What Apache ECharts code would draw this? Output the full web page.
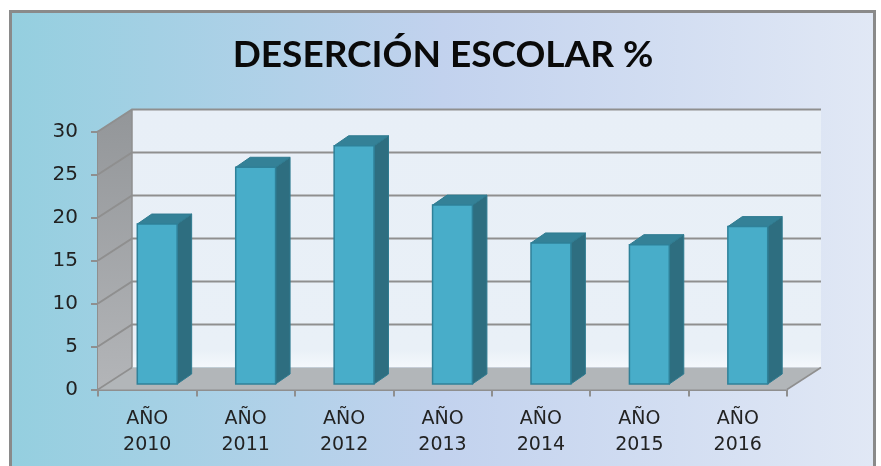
<!DOCTYPE html>
<html><head><meta charset="utf-8">
<style>html,body{margin:0;padding:0;background:#fff}#c{width:881px;height:466px}</style>
<script src="https://cdn.jsdelivr.net/npm/echarts@6/dist/echarts.min.js"></script>
</head><body><div id="c"></div>
<script>
var titleText = 'DESERCIÓN ESCOLAR %';
var categories = ['AÑO\n2010','AÑO\n2011','AÑO\n2012','AÑO\n2013','AÑO\n2014','AÑO\n2015','AÑO\n2016'];
var values = [18.6,25.2,27.7,20.8,16.4,16.2,18.3];
var yTicks = [0,5,10,15,20,25,30];

var DX = 34, DY = -22;           // depth of the 3D box
var BX = 10, BY = -5.5;          // bar inset on the floor
var BDX = 14.5, BDY = -10;       // depth of a bar
var GRID = '#8f8f8f';

var chart = echarts.init(document.getElementById('c'), null, {renderer:'canvas'});

function wallItem(params, api){
  var v = api.value(0);
  var last = categories.length - 1;
  var half = api.size([1,0])[0] / 2;
  var L = api.coord([0, v])[0] - half;
  var R = api.coord([last, v])[0] + half;
  var y = api.coord([0, v])[1];
  var y0 = api.coord([0, 0])[1];
  var yT = api.coord([0, 30])[1];
  var kids = [];
  if (v === 0) {
    kids.push({type:'polygon', shape:{points:[[L+DX,yT+DY],[R+DX,yT+DY],[R+DX,y0+DY],[L+DX,y0+DY]]},
      style:{fill:{type:'linear',x:0,y:0,x2:0,y2:1,colorStops:[{offset:0,color:'#e8eff7'},{offset:0.93,color:'#e9f0f7'},{offset:1,color:'#f4f8fc'}]}}});
    kids.push({type:'polygon', shape:{points:[[L,yT],[L+DX,yT+DY],[L+DX,y0+DY],[L,y0]]},
      style:{fill:{type:'linear',x:0,y:0,x2:0,y2:1,colorStops:[{offset:0,color:'#939699'},{offset:1,color:'#b3b5b8'}]}}});
    kids.push({type:'polygon', shape:{points:[[L,y0],[L+DX,y0+DY],[R+DX,y0+DY],[R,y0]]},
      style:{fill:'#b2b6b9'}});
    kids.push({type:'polyline', shape:{points:[[L+DX,yT+DY],[L+DX,y0+DY]]},
      style:{stroke:GRID,fill:'none',lineWidth:1.5}});
    kids.push({type:'polyline', shape:{points:[[L,y0],[L+DX,y0+DY]]},style:{stroke:GRID,lineWidth:1.5}});
    kids.push({type:'polyline', shape:{points:[[R,y0],[R+DX,y0+DY]]},style:{stroke:GRID,lineWidth:1.5}});
  } else {
    kids.push({type:'polyline', shape:{points:[[L,y],[L+DX,y+DY],[R+DX,y+DY]]},
      style:{stroke:GRID,fill:'none',lineWidth:2}});
  }
  return {type:'group', children:kids};
}

function barItem(params, api){
  var c = api.value(0), v = api.value(1);
  var top = api.coord([c, v]), base = api.coord([c, 0]);
  var w = api.size([1,0])[0] * 0.405;
  var x0 = top[0] + BX - w/2, x1 = x0 + w;
  var yt = top[1] + BY, yb = base[1] + BY;
  var edge = '#2f8199';
  return {type:'group', children:[
    {type:'polygon', shape:{points:[[x1,yt],[x1+BDX,yt+BDY],[x1+BDX,yb+BDY],[x1,yb]]},
      style:{fill:'#2e6e80',stroke:'#2f7b90',lineWidth:1}},
    {type:'polygon', shape:{points:[[x0,yt],[x0+BDX,yt+BDY],[x1+BDX,yt+BDY],[x1,yt]]},
      style:{fill:'#348197',stroke:'#2f7b90',lineWidth:1}},
    {type:'rect', shape:{x:x0,y:yt,width:w,height:yb-yt},
      style:{fill:'#48adc9',stroke:edge,lineWidth:1.5}}
  ]};
}

chart.setOption({
  animation:false,
  backgroundColor:'#ffffff',
  graphic:[{type:'rect',z:-10,silent:true,shape:{x:10.5,y:11.5,width:864,height:460},
    style:{fill:{type:'linear',x:0,y:0,x2:1,y2:0,colorStops:[
      {offset:0,color:'#94cfdf'},{offset:0.5,color:'#c2d2ee'},{offset:1,color:'#e1e8f5'}]},
      stroke:'#8a8a8a',lineWidth:3}}],
  title:{text:titleText,left:438,top:32,textAlign:'center',
    textStyle:{fontFamily:'Lato',fontWeight:'bold',fontSize:37,color:'#0a0a0a'}},
  grid:{left:98,right:94,top:131.5,height:258,containLabel:false},
  xAxis:{type:'category',data:categories,
    axisLine:{show:true,lineStyle:{color:GRID,width:2}},
    axisTick:{show:true,alignWithLabel:false,length:7,lineStyle:{color:GRID,width:2}},
    axisLabel:{interval:0,margin:17,fontFamily:'DejaVu Sans',fontSize:19,lineHeight:26,color:'#222'}},
  yAxis:{type:'value',min:0,max:30,interval:5,
    axisLine:{show:true,lineStyle:{color:GRID,width:2}},
    axisTick:{show:true,length:7,lineStyle:{color:GRID,width:2}},
    splitLine:{show:false},
    axisLabel:{margin:20,padding:[4,0,0,0],fontFamily:'DejaVu Sans',fontSize:20,color:'#222'}},
  series:[
    {type:'custom',coordinateSystem:'cartesian2d',renderItem:wallItem,clip:false,z:1,silent:true,
      encode:{y:0},data:yTicks.map(function(t){return [t];})},
    {type:'custom',coordinateSystem:'cartesian2d',renderItem:barItem,clip:false,z:5,silent:true,
      encode:{x:0,y:1},data:values.map(function(v,i){return [i,v];})}
  ]
});
</script></body></html>
